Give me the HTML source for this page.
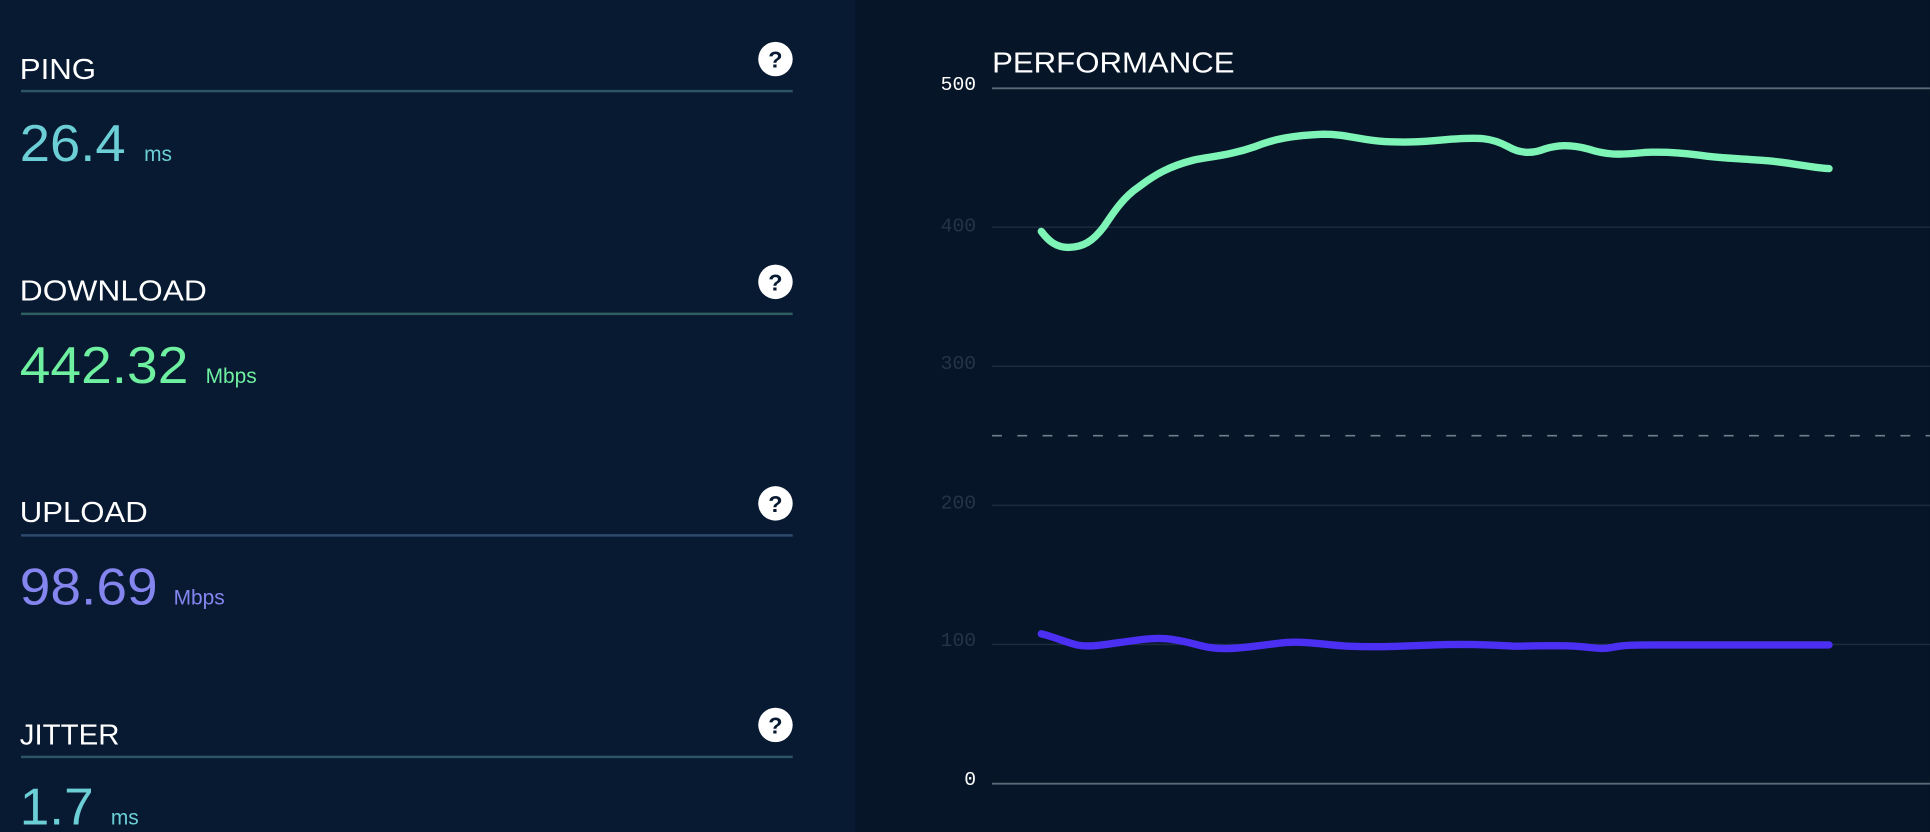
<!DOCTYPE html>
<html><head><meta charset="utf-8"><style>
html,body{margin:0;padding:0;background:#061528;width:1930px;height:832px;overflow:hidden}
svg{display:block}
.lbl{font-family:"Liberation Sans",sans-serif;font-size:23px;fill:#fff}
.mono{font-family:"Liberation Mono",monospace;font-size:16px;text-anchor:end}
</style></head><body>
<svg width="1930" height="832" viewBox="0 0 1568 676" xmlns="http://www.w3.org/2000/svg">
<rect x="0" y="0" width="1568" height="676" fill="#061528"/>
<rect x="0" y="0" width="695" height="676" fill="#081a32"/>

<g>
<text x="16" y="64" class="lbl" textLength="62" lengthAdjust="spacingAndGlyphs">PING</text>
<rect x="17" y="73" width="627" height="2" fill="#2c5566"/>
<circle cx="630" cy="48" r="14" fill="#fff"/><text x="630" y="55" text-anchor="middle" font-family="Liberation Sans" font-weight="bold" font-size="19" fill="#081a32">?</text>
<text x="16" y="131" font-family="Liberation Sans" font-size="42" fill="#6ccfd6" textLength="86" lengthAdjust="spacingAndGlyphs">26.4</text>
<text x="117" y="131" font-family="Liberation Sans" font-size="17" fill="#6ccfd6">ms</text>

<text x="16" y="244" class="lbl" textLength="152" lengthAdjust="spacingAndGlyphs">DOWNLOAD</text>
<rect x="17" y="254" width="627" height="2" fill="#2c5f5e"/>
<circle cx="630" cy="229" r="14" fill="#fff"/><text x="630" y="236" text-anchor="middle" font-family="Liberation Sans" font-weight="bold" font-size="19" fill="#081a32">?</text>
<text x="16" y="311" font-family="Liberation Sans" font-size="42" fill="#6ef0a0" textLength="137" lengthAdjust="spacingAndGlyphs">442.32</text>
<text x="167" y="311" font-family="Liberation Sans" font-size="17" fill="#6ef0a0">Mbps</text>

<text x="16" y="424" class="lbl" textLength="104" lengthAdjust="spacingAndGlyphs">UPLOAD</text>
<rect x="17" y="434" width="627" height="2" fill="#2f4a6e"/>
<circle cx="630" cy="409" r="14" fill="#fff"/><text x="630" y="416" text-anchor="middle" font-family="Liberation Sans" font-weight="bold" font-size="19" fill="#081a32">?</text>
<text x="16" y="491" font-family="Liberation Sans" font-size="42" fill="#8585f0" textLength="112" lengthAdjust="spacingAndGlyphs">98.69</text>
<text x="141" y="491" font-family="Liberation Sans" font-size="17" fill="#8585f0">Mbps</text>

<text x="16" y="605" class="lbl" textLength="81" lengthAdjust="spacingAndGlyphs">JITTER</text>
<rect x="17" y="614" width="627" height="2" fill="#2c5566"/>
<circle cx="630" cy="589" r="14" fill="#fff"/><text x="630" y="596" text-anchor="middle" font-family="Liberation Sans" font-weight="bold" font-size="19" fill="#081a32">?</text>
<text x="16" y="670" font-family="Liberation Sans" font-size="42" fill="#6ccfd6" textLength="60" lengthAdjust="spacingAndGlyphs">1.7</text>
<text x="90" y="670" font-family="Liberation Sans" font-size="17" fill="#6ccfd6">ms</text>
</g>

<g>
<text x="806" y="59" class="lbl" textLength="197" lengthAdjust="spacingAndGlyphs">PERFORMANCE</text>
<rect x="806" y="71" width="762" height="1.5" fill="#5d6b7a"/>
<rect x="806" y="184" width="762" height="1.2" fill="#1d2b3d"/>
<rect x="806" y="297" width="762" height="1.2" fill="#1d2b3d"/>
<line x1="806" y1="354" x2="1568" y2="354" stroke="#6f7e8d" stroke-width="1.3" stroke-dasharray="8,12.5"/>
<rect x="806" y="410" width="762" height="1.2" fill="#1d2b3d"/>
<rect x="806" y="523" width="762" height="1.2" fill="#1d2b3d"/>
<rect x="806" y="636" width="762" height="1.5" fill="#5d6b7a"/>
<text x="793" y="73" class="mono" fill="#fff">500</text>
<text x="793" y="188" class="mono" fill="#253447">400</text>
<text x="793" y="300" class="mono" fill="#253447">300</text>
<text x="793" y="413" class="mono" fill="#253447">200</text>
<text x="793" y="525" class="mono" fill="#253447">100</text>
<text x="793" y="638" class="mono" fill="#fff">0</text>

<path d="M846,188 C852,196 858,201 868,201 C880,201 888,196 897,184 C905,172 913,160 925,152 C938,142 950,135 970,130 C985,127 1000,126 1020,119 C1035,113 1050,110 1075,109 C1095,109 1105,114 1125,115 C1145,116 1160,115 1180,113 C1200,112 1210,111 1225,119 C1235,125 1245,125 1255,121 C1265,118 1275,117 1290,121 C1305,126 1315,126 1335,124 C1350,123 1365,124 1380,126 C1400,129 1420,129 1440,131 C1460,133 1470,136 1486,137" fill="none" stroke="#7ef4b6" stroke-width="6" stroke-linecap="round"/>

<path d="M846,515 C858,518 866,522 875,524 C885,526 895,524 910,522 C925,520 940,517 955,520 C970,522 978,527 995,527 C1010,527 1025,524 1045,522 C1065,521 1075,524 1095,525 C1120,526 1140,525 1165,524 C1190,523 1210,524 1230,525 C1250,525 1260,524 1280,525 C1295,526 1300,528 1310,526 C1320,524 1330,524 1345,524 C1370,524 1400,524 1420,524 L1486,524" fill="none" stroke="#4b2ff2" stroke-width="6" stroke-linecap="round"/>
</g>
</svg>
</body></html>
